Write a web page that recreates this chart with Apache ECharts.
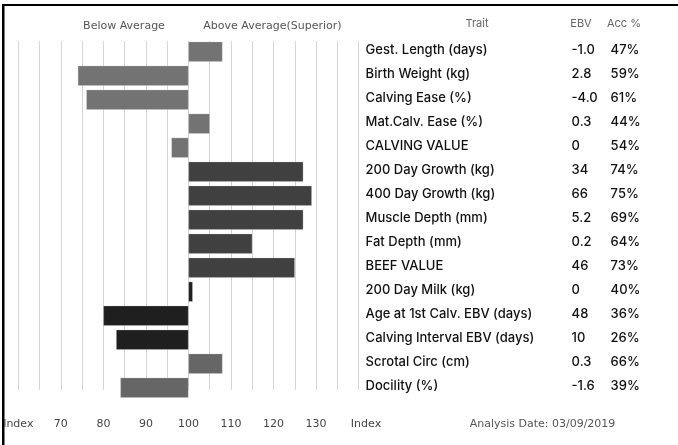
<!DOCTYPE html>
<html><head><meta charset="utf-8">
<script src="https://cdn.jsdelivr.net/npm/echarts@6/dist/echarts.min.js"></script>
<style>html,body{margin:0;padding:0;background:#fff}#c{width:678px;height:445px}</style>
</head><body><div id="c"></div>
<script>
const traits = ["Gest. Length (days)","Birth Weight (kg)","Calving Ease (%)","Mat.Calv. Ease (%)","CALVING VALUE","200 Day Growth (kg)","400 Day Growth (kg)","Muscle Depth (mm)","Fat Depth (mm)","BEEF VALUE","200 Day Milk (kg)","Age at 1st Calv. EBV (days)","Calving Interval EBV (days)","Scrotal Circ (cm)","Docility (%)"];
const indexValues = [108,74,76,105,96,127,129,127,115,125,101,80,83,108,84];
const ebv = ["-1.0","2.8","-4.0","0.3","0","34","66","5.2","0.2","46","0","48","10","0.3","-1.6"];
const acc = ["47%","59%","61%","44%","54%","74%","75%","69%","64%","73%","40%","36%","26%","66%","39%"];
const tickLabels = ["Index","70","80","90","100","110","120","130"];
const axisMin = 60, axisMax = 140, avg = 100;

const barColors = ["#737373","#737373","#737373","#737373","#737373","#404040","#404040","#404040","#404040","#404040","#1f1f1f","#1f1f1f","#1f1f1f","#666666","#666666"];

const chart = echarts.init(document.getElementById('c'), null, {renderer:'canvas'});
const gl = 18.3, gw = 340.3;
const option = {
  animation:false,
  backgroundColor:'#fff',
  grid:[
    {left:gl, width:gw, top:41, height:349},
    {left:gl, width:gw, top:39.7, height:360}
  ],
  xAxis:[
    {gridIndex:0, type:'value', min:axisMin-avg, max:axisMax-avg, interval:5,
     axisLine:{show:false}, axisTick:{show:false}, axisLabel:{show:false},
     splitLine:{show:true, lineStyle:{color:'#d4d4d4', width:1}}},
    {gridIndex:1, type:'value', min:axisMin-avg, max:axisMax-avg, interval:10,
     axisLine:{show:false}, axisTick:{show:false}, splitLine:{show:false},
     axisLabel:{show:true, margin:19, color:'#444', fontFamily:'DejaVu Sans', fontSize:11,
       showMaxLabel:false,
       formatter:function(v){const i=Math.round((v-(axisMin-avg))/10); return tickLabels[i]!==undefined?tickLabels[i]:'';}}}
  ],
  yAxis:[
    {gridIndex:0, type:'value', show:false, min:0, max:1},
    {gridIndex:1, type:'category', data:traits, inverse:true, position:'right',
     axisLine:{show:false}, axisTick:{show:false}, splitLine:{show:false},
     axisLabel:{show:true, margin:7, align:'left', verticalAlign:'middle', padding:[0,0,3,0],
       formatter:function(v, i){return '{t|'+v+'}{e|'+ebv[i]+'}{a|'+acc[i]+'}';},
       rich:{
         t:{width:206, fontFamily:'Inter', fontSize:13, fontWeight:500, color:'#111'},
         e:{width:39, fontFamily:'Inter', fontSize:13, fontWeight:500, color:'#111'},
         a:{fontFamily:'Inter', fontSize:13, fontWeight:500, color:'#111'}
       }}}
  ],
  series:[
    {type:'bar', xAxisIndex:1, yAxisIndex:1, barWidth:20,
     data:indexValues.map((v,i)=>({value:v-avg, itemStyle:{color:barColors[i], borderColor:'rgba(200,200,200,0.6)', borderWidth:0.5}}))}
  ],
  graphic:[
    {type:'rect', shape:{x:2, y:4, width:2.5, height:441}, style:{fill:'#000'}},
    {type:'rect', shape:{x:2, y:4, width:676, height:2}, style:{fill:'#000'}},
    {type:'text', x:124, y:26, style:{text:'Below Average', fontFamily:'DejaVu Sans', fontSize:11, fill:'#555', align:'center', verticalAlign:'middle'}},
    {type:'text', x:272.5, y:26, style:{text:'Above Average(Superior)', fontFamily:'DejaVu Sans', fontSize:11, fill:'#555', align:'center', verticalAlign:'middle'}},
    {type:'text', x:477, y:24, style:{text:'Trait', fontFamily:'Inter', fontSize:11, fill:'#666', align:'center', verticalAlign:'middle'}},
    {type:'text', x:581, y:24, style:{text:'EBV', fontFamily:'Inter', fontSize:11, fill:'#666', align:'center', verticalAlign:'middle'}},
    {type:'text', x:624, y:24, style:{text:'Acc %', fontFamily:'Inter', fontSize:11, fill:'#666', align:'center', verticalAlign:'middle'}},
    {type:'text', x:366, y:424, style:{text:'Index', fontFamily:'DejaVu Sans', fontSize:11, fill:'#444', align:'center', verticalAlign:'middle'}},
    {type:'text', x:542.5, y:424, style:{text:'Analysis Date: 03/09/2019', fontFamily:'DejaVu Sans', fontSize:11, fill:'#555', align:'center', verticalAlign:'middle'}}
  ]
};
chart.setOption(option);
</script></body></html>
